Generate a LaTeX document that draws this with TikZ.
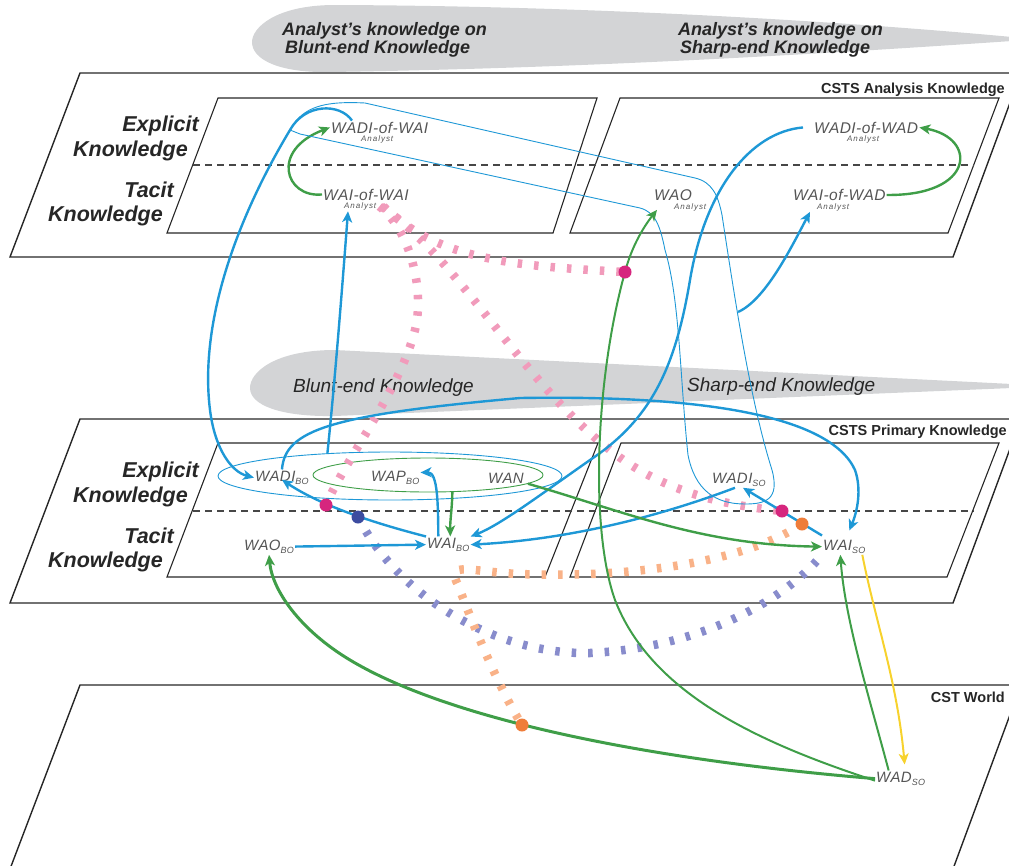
\documentclass[tikz,border=0pt]{standalone}
\usepackage{fontspec}
\newfontfamily\lsans{Liberation Sans}
\newfontfamily\lsansls[LetterSpace=3]{Liberation Sans}
\newfontfamily\lsanswide[LetterSpace=12]{Liberation Sans}
\usetikzlibrary{arrows.meta,shapes.geometric}

\definecolor{cblue}{RGB}{30,152,214}
\definecolor{cgreen}{RGB}{63,158,72}
\definecolor{cpink}{RGB}{241,155,187}
\definecolor{cmag}{RGB}{214,38,126}
\definecolor{cnavy}{RGB}{60,76,160}
\definecolor{cperi}{RGB}{136,140,204}
\definecolor{corl}{RGB}{249,178,136}
\definecolor{cord}{RGB}{239,125,58}
\definecolor{cyel}{RGB}{247,210,45}
\definecolor{cban}{RGB}{211,212,214}
\definecolor{cink}{RGB}{38,38,38}
\definecolor{clbl}{RGB}{85,85,85}

% subscript for the knowledge item labels
\newcommand\lsub[1]{\raisebox{-3.5pt}{\fontsize{9}{9}\selectfont #1}}

\begin{document}
\begin{tikzpicture}[x=1pt,y=-1pt,
  plate/.style={draw=cink,line width=1.4pt,line join=miter},
  panel/.style={draw=cink,line width=1.1pt},
  divider/.style={draw=cink!85,line width=1.3pt,dash pattern=on 7pt off 5pt},
  sidelbl/.style={font=\lsans\bfseries\itshape\fontsize{21.5}{21.5}\selectfont,text=cink,inner sep=0pt,anchor=base east},
  planetitle/.style={font=\lsans\bfseries\fontsize{14.5}{14.5}\selectfont,text=cink,inner sep=0pt,anchor=base east},
  bantext/.style={font=\lsans\bfseries\itshape\fontsize{18}{18}\selectfont,text=cink,inner sep=0pt,anchor=base west},
  zonetext/.style={font=\lsans\itshape\fontsize{19}{19}\selectfont,text=cink,inner sep=0pt,anchor=base west},
  lbl/.style={font=\lsansls\itshape\fontsize{15.5}{15.5}\selectfont,text=clbl,inner sep=1pt,anchor=base west},
  mlbl/.style={font=\lsansls\itshape\fontsize{15}{15}\selectfont,text=clbl,inner sep=1pt,anchor=base west},
  sublbl/.style={font=\lsanswide\itshape\fontsize{8}{8}\selectfont,text=clbl,inner sep=1pt,anchor=base west},
  arrowed/.style={-{Stealth[length=11pt,width=10pt,inset=3pt]}},
  bl/.style={draw=cblue,line width=2.4pt,arrowed},
  thinblue/.style={draw=cblue,line width=0.9pt},
  gr/.style={draw=cgreen,line width=2.4pt,arrowed},
  yl/.style={draw=cyel,line width=2pt,arrowed},
  pinkdash/.style={draw=cpink,line width=8.5pt,dash pattern=on 4.5pt off 12pt},
  peridash/.style={draw=cperi,line width=8.5pt,dash pattern=on 4.5pt off 12pt},
  orangedash/.style={draw=corl,line width=8.5pt,dash pattern=on 4.5pt off 12pt},
]
\useasboundingbox (0,0) rectangle (1009,865);
\clip (0,0) rectangle (1009,865);

% ---------- tapered banners ----------
\fill[cban] (1012,37) .. controls (850,22) and (600,6) .. (335,5)
  .. controls (275,5) and (252,28) .. (252,42)
  .. controls (252,60) and (280,73) .. (330,72)
  .. controls (600,68) and (850,52) .. (1012,41) -- cycle;
\fill[cban] (1012,384) -- (335,350) .. controls (275,350) and (250,372) .. (250,388)
  .. controls (250,405) and (280,417) .. (335,416) -- (1012,388) -- cycle;

\node[bantext] (ba1) at (282,35) {Analyst’s knowledge on};
\node[bantext] (ba2) at (285,53) {Blunt-end Knowledge};
\node[bantext] (ba3) at (678,35) {Analyst’s knowledge on};
\node[bantext] (ba4) at (680,53) {Sharp-end Knowledge};
\node[zonetext] (z1) at (293,392) {Blunt-end Knowledge};
\node[zonetext] (z2) at (687,391) {Sharp-end Knowledge};

% ---------- planes ----------
\draw[plate] (80,73) -- (1021,73) -- (953,257) -- (10,257) -- cycle;
\draw[panel] (218,98) -- (597,98) -- (553,233) -- (167,233) -- cycle;
\draw[panel] (620,98) -- (999,98) -- (948,233) -- (570,233) -- cycle;
\draw[divider] (193,165) -- (974,165);

\draw[plate] (80,419) -- (1021,419) -- (953,603) -- (10,603) -- cycle;
\draw[panel] (218,443) -- (598,443) -- (545,577) -- (167,577) -- cycle;
\draw[panel] (621,443) -- (999,443) -- (947,577) -- (570,577) -- cycle;
\draw[divider] (193,511) -- (974,511);

\draw[plate] (80,685) -- (1021,685) -- (953,869) -- (10,869) -- cycle;

\node[planetitle] (t1) at (1005,93) {CSTS Analysis Knowledge};
\node[planetitle] (t2) at (1007,435) {CSTS Primary Knowledge};
\node[planetitle] (t3) at (1005,702) {CST World};

% ---------- side labels ----------
\node[sidelbl] (ex1) at (199,131) {Explicit};
\node[sidelbl] (kn1) at (188,156) {Knowledge};
\node[sidelbl] (ta1) at (174,197) {Tacit};
\node[sidelbl] (kt1) at (163,221) {Knowledge};
\node[sidelbl] (ex2) at (199,477) {Explicit};
\node[sidelbl] (kn2) at (188,502) {Knowledge};
\node[sidelbl] (ta2) at (174,543) {Tacit};
\node[sidelbl] (kt2) at (163,567) {Knowledge};

% ---------- analysis items ----------
\node[lbl] (wadiwai) at (330,133) {WADI-of-WAI};
\node[sublbl] (wadiwaisub) at (360,141) {Analyst};
\node[lbl] (waiwai) at (322,200) {WAI-of-WAI};
\node[sublbl] (waiwaisub) at (343,208.5) {Analyst};
\node[lbl] (waoan) at (653,200.5) {WAO};
\node[sublbl] (waoansub) at (673,209) {Analyst};
\node[lbl] (wadiwad) at (813,133) {WADI-of-WAD};
\node[sublbl] (wadiwadsub) at (846,141) {Analyst};
\node[lbl] (waiwad) at (792,200.5) {WAI-of-WAD};
\node[sublbl] (waiwadsub) at (816,209) {Analyst};

% ---------- primary items ----------
\node[draw=cblue,line width=0.9pt,ellipse,minimum width=344pt,minimum height=48pt,inner sep=0pt] (blueell) at (390,476) {};
\node[draw=cgreen,line width=0.9pt,ellipse,minimum width=230pt,minimum height=34pt,inner sep=0pt] (greenell) at (428,475) {};
\node[mlbl] (wadibo) at (254,481) {WADI\lsub{BO}};
\node[mlbl] (wapbo) at (370,481) {WAP\lsub{BO}};
\node[mlbl] (wan) at (487,483) {WAN};
\node[mlbl] (waobo) at (243,550) {WAO\lsub{BO}};
\node[mlbl] (waibo) at (426,548) {WAI\lsub{BO}};
\node[mlbl] (wadiso) at (711,483) {WADI\lsub{SO}};
\node[mlbl] (waiso) at (822,550) {WAI\lsub{SO}};
\node[mlbl] (wadso) at (875,782) {WAD\lsub{SO}};

% ---------- junction points ----------
\coordinate (lasso) at (290,130);
\coordinate (lassoR) at (738,312);
\coordinate (md1) at (625,272);
\coordinate (md2) at (326,505);
\coordinate (nd1) at (358,517);
\coordinate (md3) at (782,511);
\coordinate (od1) at (802,524);
\coordinate (od2) at (522,725);

% ---------- dashed influence links ----------
\draw[pinkdash] ([xshift=6pt]waiwaisub.east) .. controls (440,262) and (520,266) .. (md1);
\draw[pinkdash] ([xshift=2pt]waiwaisub.east) .. controls (410,230) and (425,290) .. (415,330)
  .. controls (400,390) and (345,460) .. (md2);
\draw[pinkdash] ([xshift=4pt]waiwaisub.east) .. controls (460,260) and (520,380) .. (610,450)
  .. controls (660,490) and (720,505) .. (md3);
\draw[peridash] (nd1) .. controls (400,600) and (500,655) .. (590,653)
  .. controls (700,648) and (785,600) .. (waiso.south west);
\draw[orangedash] (od1) .. controls (740,565) and (620,578) .. (520,574)
  .. controls (470,572) and (445,560) .. (458,585)
  .. controls (475,630) and (500,690) .. (od2);

% ---------- analysis plane arrows ----------
\draw[gr] (waiwai.west) .. controls (285,198) and (270,150) .. (wadiwai.west);
\draw[gr] (waiwad.east) .. controls (975,196) and (978,138) .. (wadiwad.east);

% lasso around the explicit items
\draw[thinblue] (lasso) .. controls (303,106) and (325,101) .. (365,103) -- (695,178)
  .. controls (712,182) and (718,195) .. (722,215)
  .. controls (735,300) and (750,400) .. (772,470)
  .. controls (780,500) and (765,504) .. (745,504)
  .. controls (715,504) and (695,490) .. (688,455)
  .. controls (680,380) and (680,300) .. (665,250)
  .. controls (660,225) and (655,212) .. (640,208) -- (300,134) -- cycle;

\draw[bl] ([xshift=22pt]wadiwai.north west) .. controls (340,103) and (305,103) .. (lasso)
  .. controls (230,230) and (200,330) .. (210,410)
  .. controls (215,450) and (232,472) .. (wadibo.west);
\draw[bl] (lassoR) .. controls (765,300) and (790,250) .. ([xshift=-6pt]waiwadsub.south west);
\draw[bl] ([xshift=-10pt]wadiwad.west) .. controls (750,132) and (705,190) .. (690,280)
  .. controls (675,370) and (650,420) .. (590,460)
  .. controls (540,495) and (500,525) .. (waibo.north east);
\draw[bl] (blueell.160) .. controls (335,380) and (342,290) .. ([xshift=5pt]waiwaisub.south west);

% ---------- primary plane arrows ----------
\draw[bl] ([xshift=-4pt]wadiso.south) .. controls (650,520) and (560,540) .. (waibo.east);
\draw[bl] (wadibo.north) .. controls (285,430) and (330,415) .. (520,398)
  .. controls (700,395) and (830,415) .. (855,470)
  .. controls (862,490) and (857,512) .. ([xshift=5pt,yshift=8pt]waiso.north);
\draw[bl] (waibo.north west) .. controls (370,522) and (320,505) .. ([yshift=6pt]wadibo.south);
\draw[bl] ([xshift=-10pt]waibo.north) .. controls (438,505) and (438,472) .. ([yshift=-3pt]wapbo.north east);
\draw[gr] (greenell.-35) .. controls (452,510) and (450,520) .. ([xshift=2pt]waibo.north);
\draw[bl] (waobo.east) -- (waibo.west);
\draw[gr] (greenell.-5) .. controls (620,510) and (700,545) .. (waiso.west);
\draw[bl] ([yshift=3pt]waiso.north west) -- ([xshift=4pt]wadiso.south);

% ---------- world plane arrows ----------
\draw[gr,line width=3pt] (wadso.west) .. controls (650,760) and (450,720) .. (350,660)
  .. controls (300,630) and (272,590) .. (waobo.south);
\draw[gr,line width=2pt] ([yshift=-2pt]wadso.west) .. controls (750,740) and (650,690) .. (615,600)
  .. controls (590,530) and (595,380) .. (md1)
  .. controls (632,245) and (645,225) .. ([xshift=4pt,yshift=-8pt]waoan.south west);
\draw[gr,line width=2pt] ([xshift=-12pt]wadso.north) .. controls (870,700) and (845,620) .. ([xshift=-4pt]waiso.south);
\draw[yl] ([xshift=18pt]waiso.south) .. controls (875,620) and (897,680) .. ([xshift=4pt,yshift=6pt]wadso.north);

% ---------- junction dots ----------
\fill[cmag] (md1) circle (6.5pt);
\fill[cmag] (md2) circle (6.5pt);
\fill[cmag] (md3) circle (6.5pt);
\fill[cnavy] (nd1) circle (6.5pt);
\fill[cord] (od1) circle (6.5pt);
\fill[cord] (od2) circle (6.5pt);
\end{tikzpicture}
\end{document}
